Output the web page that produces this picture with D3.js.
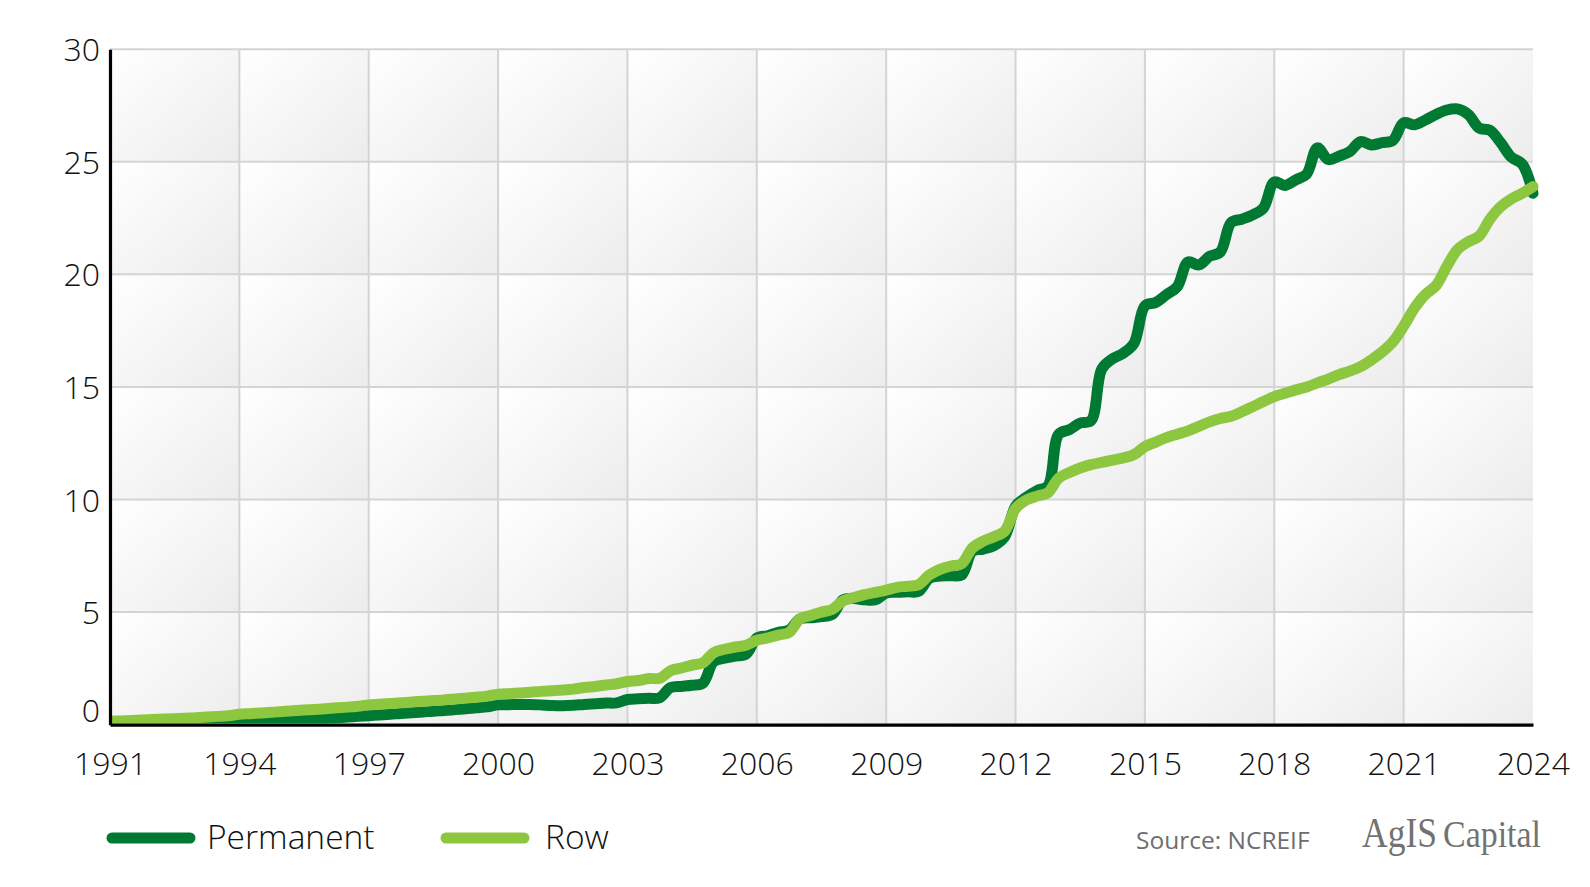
<!DOCTYPE html>
<html>
<head>
<meta charset="utf-8">
<script src="https://cdn.jsdelivr.net/npm/d3@7"></script>
<style>
  html, body { margin: 0; padding: 0; background: #ffffff; }
  svg { display: block; }
</style>
</head>
<body>
<svg id="chart" width="1590" height="887"></svg>
<script>
// ---- data (quarterly, 1991 Q1 .. 2024 Q1) ----
const startYear = 1991;
const endYear = 2024;
const seriesNames = ["Permanent", "Row"];
const permanent = [
  0, 0, 0, 0,
  0, 0, 0, 0,
  0, 0, 0.01, 0.02,
  0.03, 0.06, 0.09, 0.12,
  0.15, 0.18, 0.21, 0.25,
  0.28, 0.31, 0.34, 0.37,
  0.4, 0.43, 0.46, 0.5,
  0.53, 0.56, 0.6, 0.63,
  0.67, 0.71, 0.75, 0.79,
  0.88, 0.89, 0.9, 0.9,
  0.88, 0.85, 0.84, 0.86,
  0.9, 0.93, 0.96, 0.97,
  1.12, 1.15, 1.17, 1.2,
  1.65, 1.7, 1.75, 1.85,
  2.8, 2.95, 3.05, 3.13,
  3.85, 3.95, 4.1, 4.2,
  4.7, 4.75, 4.8, 4.9,
  5.55, 5.6, 5.55, 5.55,
  5.85, 5.88, 5.9, 5.92,
  6.5, 6.6, 6.62, 6.65,
  7.7, 7.8, 7.95, 8.35,
  9.7, 10.1, 10.4, 10.6,
  12.9, 13.1, 13.4, 13.5,
  15.8, 16.25, 16.5, 16.95,
  18.6, 18.75, 19.1, 19.45,
  20.55, 20.42, 20.8, 21.0,
  22.3, 22.45, 22.64, 22.95,
  24.1, 23.95, 24.2, 24.45,
  25.62, 25.1, 25.25, 25.45,
  25.9, 25.75, 25.85, 25.95,
  26.73, 26.64, 26.85, 27.1,
  27.3, 27.35, 27.1, 26.5,
  26.4, 25.85, 25.2, 24.9,
  23.6
];
const row = [
  0.15, 0.17, 0.19, 0.21,
  0.23, 0.25, 0.27, 0.29,
  0.31, 0.34, 0.37, 0.4,
  0.46, 0.49, 0.52, 0.55,
  0.59, 0.62, 0.65, 0.68,
  0.71, 0.75, 0.78, 0.82,
  0.88, 0.91, 0.94, 0.97,
  1.01, 1.04, 1.07, 1.1,
  1.14, 1.18, 1.22, 1.27,
  1.35, 1.38, 1.41, 1.44,
  1.48, 1.51, 1.54, 1.58,
  1.65, 1.7, 1.76, 1.82,
  1.92, 1.96, 2.05, 2.06,
  2.4, 2.52, 2.65, 2.75,
  3.2, 3.35, 3.45, 3.53,
  3.75, 3.85, 3.98, 4.1,
  4.7, 4.85, 5.0, 5.12,
  5.5, 5.65, 5.78, 5.88,
  5.98, 6.1, 6.15, 6.22,
  6.65, 6.9, 7.05, 7.15,
  7.85, 8.15, 8.35, 8.6,
  9.6, 9.98, 10.15, 10.3,
  10.95, 11.2, 11.4, 11.55,
  11.65, 11.75, 11.85, 12.0,
  12.35, 12.55, 12.75, 12.9,
  13.05, 13.25, 13.45, 13.6,
  13.7, 13.9, 14.12, 14.35,
  14.57, 14.72, 14.87, 15.0,
  15.18, 15.35, 15.55, 15.7,
  15.9, 16.2, 16.55, 17.0,
  17.7, 18.5, 19.1, 19.5,
  20.35, 21.1, 21.45, 21.7,
  22.45, 23.0, 23.35, 23.6,
  23.9
];
const xTickLabels = [1991, 1994, 1997, 2000, 2003, 2006, 2009, 2012, 2015, 2018, 2021, 2024];
const yTickLabels = [0, 5, 10, 15, 20, 25, 30];
const sourceText = "Source: NCREIF";
const logoWords = ["AgIS", "Capital"];

// ---- layout ----
const colors = { Permanent: "#007a33", Row: "#8dc63f" };
const svg = d3.select("#chart");
const plotL = 110, plotR = 1533, plotT = 49.2, plotB = 724.7;
const x = d3.scaleLinear().domain([startYear, endYear]).range([plotL, plotR]);
const y = d3.scaleLinear().domain([0, 30]).range([plotB, plotT]);

const defs = svg.append("defs");
const grad = defs.append("linearGradient").attr("id", "cellGrad")
  .attr("x1", "0").attr("y1", "0").attr("x2", "1").attr("y2", "1");
grad.append("stop").attr("offset", "0%").attr("stop-color", "#ffffff");
grad.append("stop").attr("offset", "100%").attr("stop-color", "#ececec");

defs.append("clipPath").attr("id", "plotClip").append("rect")
  .attr("x", plotL).attr("y", 0).attr("width", plotR - plotL + 30).attr("height", plotB - 1.5);

// cells
const cells = [];
for (let i = 0; i < xTickLabels.length - 1; i++) {
  for (let j = 0; j < yTickLabels.length - 1; j++) {
    cells.push({ x0: xTickLabels[i], x1: xTickLabels[i + 1], y0: yTickLabels[j], y1: yTickLabels[j + 1] });
  }
}
svg.append("g").selectAll("rect").data(cells).join("rect")
  .attr("x", d => x(d.x0)).attr("y", d => y(d.y1))
  .attr("width", d => x(d.x1) - x(d.x0)).attr("height", d => y(d.y0) - y(d.y1))
  .attr("fill", "url(#cellGrad)");

// grid
const grid = svg.append("g").attr("stroke", "#d4d4d4").attr("stroke-width", 2);
grid.selectAll("line.v").data(xTickLabels.slice(1, -1)).join("line").attr("class", "v")
  .attr("x1", d => x(d)).attr("x2", d => x(d)).attr("y1", plotT).attr("y2", plotB);
grid.selectAll("line.h").data(yTickLabels.slice(1)).join("line").attr("class", "h")
  .attr("x1", plotL).attr("x2", plotR).attr("y1", d => y(d)).attr("y2", d => y(d));

// lines
const pts = arr => arr.map((v, i) => ({ t: startYear + i / 4, v }));
const line = d3.line().x(d => x(d.t)).y(d => y(d.v)).curve(d3.curveCatmullRom.alpha(0.5));
const lg = svg.append("g").attr("clip-path", "url(#plotClip)");
[["Permanent", permanent], ["Row", row]].forEach(([name, arr]) => {
  lg.append("path").datum(pts(arr))
    .attr("d", line).attr("fill", "none")
    .attr("stroke", colors[name]).attr("stroke-width", 11)
    .attr("stroke-linecap", "round").attr("stroke-linejoin", "round");
});

// axes
const fontFam = "'Open Sans', 'Noto Sans', sans-serif";
const xAxis = svg.append("g").attr("transform", `translate(0,${plotB})`)
  .call(d3.axisBottom(x).tickValues(xTickLabels).tickFormat(d3.format("d")).tickSize(0).tickPadding(0));
xAxis.select(".domain").attr("stroke", "#000").attr("stroke-width", 3.2);
xAxis.selectAll("text").attr("dy", null).attr("y", 50)
  .attr("font-family", fontFam).attr("font-weight", 300).attr("font-size", 32).attr("fill", "#111");

const yAxis = svg.append("g").attr("transform", `translate(${plotL},0)`)
  .call(d3.axisLeft(y).tickValues(yTickLabels).tickFormat(d3.format("d")).tickSize(0).tickPadding(0));
yAxis.select(".domain").attr("stroke", "#000").attr("stroke-width", 3.2);
yAxis.selectAll("text").attr("dy", null).attr("x", -10)
  .attr("y", d => d === 0 ? -3 : 11.5)
  .attr("font-family", fontFam).attr("font-weight", 300).attr("font-size", 32).attr("fill", "#111");

// legend
const legendItems = [
  { name: seriesNames[0], x0: 112, x1: 190, tx: 207 },
  { name: seriesNames[1], x0: 446, x1: 524, tx: 545 }
];
const leg = svg.append("g");
legendItems.forEach(it => {
  leg.append("line").attr("x1", it.x0).attr("x2", it.x1).attr("y1", 838).attr("y2", 838)
    .attr("stroke", colors[it.name]).attr("stroke-width", 11).attr("stroke-linecap", "round");
  leg.append("text").attr("x", it.tx).attr("y", 849).text(it.name)
    .attr("font-family", fontFam).attr("font-weight", 300).attr("font-size", 33.5).attr("fill", "#111");
});

// source & logo
svg.append("text").attr("x", 1136).attr("y", 849).text(sourceText)
  .attr("font-family", fontFam).attr("font-size", 24.5).attr("fill", "#6e6e6e");

const serif = "'Liberation Serif', 'DejaVu Serif', serif";
svg.append("text").attr("x", 1362).attr("y", 847).text(logoWords[0])
  .attr("font-family", serif).attr("font-size", 42).attr("fill", "#727272")
  .attr("textLength", 75).attr("lengthAdjust", "spacingAndGlyphs");
svg.append("text").attr("x", 1443).attr("y", 847).text(logoWords[1])
  .attr("font-family", serif).attr("font-size", 37).attr("fill", "#727272")
  .attr("textLength", 98).attr("lengthAdjust", "spacingAndGlyphs");
</script>
</body>
</html>
